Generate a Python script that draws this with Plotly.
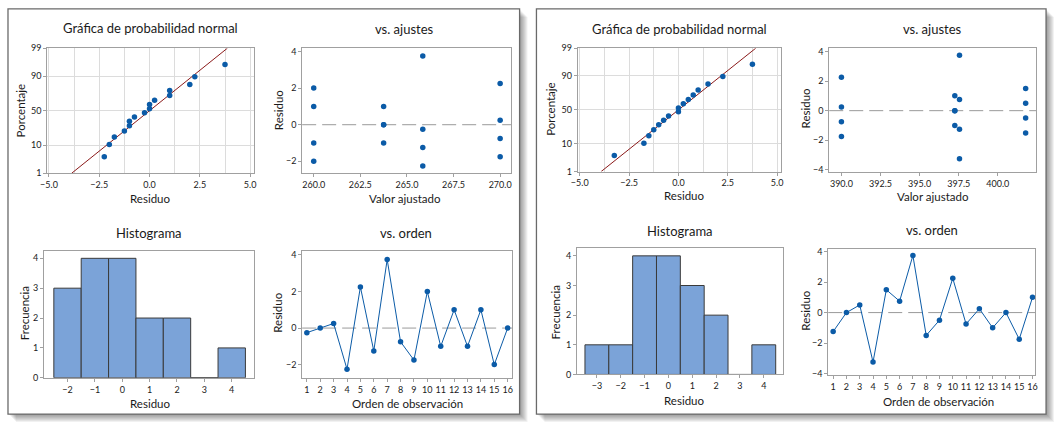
import plotly.graph_objects as go
from statistics import NormalDist

W, H = 1055, 423
FONT = "Lato"

# ---- datos modelo 1 (panel izquierdo) ----
orden = list(range(1, 17))
resid_a = [-0.25, 0.0, 0.25, -2.25, 2.25, -1.25, 3.75, -0.75, -1.75, 2.0, -1.0, 1.0, -1.0, 1.0, -2.0, 0.0]
ajuste_a = [265.85, 263.75, 270.0, 265.85, 270.0, 265.85, 265.85, 270.0, 270.0, 260.0, 260.0, 260.0,
            263.75, 263.75, 260.0, 263.75]
resid_ord_a = [-2.25, -2.0, -1.75, -1.25, -1.0, -1.0, -0.75, -0.25, 0.0, 0.0, 0.25, 1.0, 1.0, 2.0, 2.25, 3.75]
linea_a_x = [-3.87, 3.87]
hist_a_x = [-2, -1, 0, 1, 2, 3, 4]
hist_a_n = [3, 4, 4, 2, 2, 0, 1]

# ---- datos modelo 2 (panel derecho) ----
resid_b = [-1.25, 0.0, 0.5, -3.25, 1.5, 0.75, 3.75, -1.5, -0.5, 2.25, -0.75, 0.25, -1.0, 0.0, -1.75, 1.0]
ajuste_b = [397.55, 397.25, 401.78, 397.55, 401.78, 397.55, 397.55, 401.78, 401.78, 390.0, 390.0, 390.0,
            397.25, 397.25, 390.0, 397.25]
resid_ord_b = [-3.25, -1.75, -1.5, -1.25, -1.0, -0.75, -0.5, 0.0, 0.0, 0.25, 0.5, 0.75, 1.0, 1.5, 2.25, 3.75]
linea_b_x = [-3.92, 3.92]
hist_b_x = [-3, -2, -1, 0, 1, 2, 3, 4]
hist_b_n = [1, 1, 4, 4, 3, 2, 0, 1]

# posiciones de graficado (rango mediano) y escala de probabilidad
pct = [4.3, 10.4, 16.5, 22.6, 28.7, 34.8, 40.9, 47.0, 53.0, 59.1, 65.2, 71.3, 77.4, 83.5, 89.6, 95.7]
linea_p = [1, 99]
prob_ticks = [1, 10, 50, 90, 99]

z = lambda p: NormalDist().inv_cdf(p / 100.0)

BLUE = "#0b5ba7"
RED = "#8b1a1a"
BAR = "#7ba3d8"
FRAME = "#a0a0a0"
GRID = "#dcdcdc"
TXT = "#1a1a1a"


def px(x0, x1):
    return [x0 / W, x1 / W]


def py(y0, y1):
    # y en pixeles desde arriba
    return [1 - y1 / H, 1 - y0 / H]


def eje(dom, **kw):
    d = dict(domain=dom, showline=True, mirror=True, linecolor=FRAME, linewidth=1,
             ticks="outside", ticklen=3, tickcolor=FRAME,
             tickfont=dict(family=FONT, size=9, color=TXT),
             showgrid=False, zeroline=False)
    d.update(kw)
    return d


fig = go.Figure()

# ---------------- paneles ----------------
paneles = [
    dict(sfx=["", "2", "3", "4"], resid=resid_a, ajuste=ajuste_a, rs=resid_ord_a, lx=linea_a_x,
         hx=hist_a_x, hn=hist_a_n),
    dict(sfx=["5", "6", "7", "8"], resid=resid_b, ajuste=ajuste_b, rs=resid_ord_b, lx=linea_b_x,
         hx=hist_b_x, hn=hist_b_n),
]

for p in paneles:
    s = p["sfx"]
    # probabilidad normal
    fig.add_trace(go.Scatter(x=p["lx"], y=[z(v) for v in linea_p], mode="lines",
                             line=dict(color=RED, width=1), xaxis="x" + s[0], yaxis="y" + s[0]))
    fig.add_trace(go.Scatter(x=p["rs"], y=[z(v) for v in pct], mode="markers",
                             marker=dict(color=BLUE, size=5.5), xaxis="x" + s[0], yaxis="y" + s[0]))
    # vs. ajustes
    fig.add_trace(go.Scatter(x=p["ajuste"], y=p["resid"], mode="markers",
                             marker=dict(color=BLUE, size=5.5), xaxis="x" + s[1], yaxis="y" + s[1]))
    # histograma
    fig.add_trace(go.Bar(x=p["hx"], y=p["hn"], width=1, marker=dict(color=BAR, line=dict(color="#3a3a3a", width=1)),
                         xaxis="x" + s[2], yaxis="y" + s[2]))
    # vs. orden
    fig.add_trace(go.Scatter(x=orden, y=p["resid"], mode="lines+markers",
                             line=dict(color=BLUE, width=1), marker=dict(color=BLUE, size=5.5),
                             xaxis="x" + s[3], yaxis="y" + s[3]))

lay = {}
ptick = dict(tickvals=[z(v) for v in prob_ticks], ticktext=[str(v) for v in prob_ticks],
             showgrid=True, gridcolor=GRID, gridwidth=1)
pxax = dict(dtick=2.5, tick0=0, tickformat=".1f", showgrid=True, gridcolor=GRID,
            minor=dict(dtick=1.25, tick0=0, showgrid=True, gridcolor=GRID))

# panel izquierdo
lay["xaxis"] = eje(px(40.7, 249.3), range=[-5.08, 5.2], anchor="y", **pxax)
lay["yaxis"] = eje(py(43.3, 171.7), range=[z(1), z(99)], anchor="x", **ptick)
lay["xaxis2"] = eje(px(297.7, 508.3), range=[259.38, 270.58], dtick=2.5, tick0=260, tickformat=".1f", anchor="y2")
lay["yaxis2"] = eje(py(43.3, 171.7), range=[-2.65, 4.18], dtick=2, anchor="x2")
lay["xaxis3"] = eje(px(37.3, 249.3), range=[-2.86, 4.82], dtick=1, anchor="y3")
lay["yaxis3"] = eje(py(251.7, 381.7), range=[0, 4.24], dtick=1, anchor="x3")
lay["xaxis4"] = eje(px(297.7, 509.3), range=[0.65, 16.32], dtick=1, anchor="y4")
lay["yaxis4"] = eje(py(251.7, 381.7), range=[-2.72, 4.21], dtick=2, anchor="x4")
# panel derecho
lay["xaxis5"] = eje(px(575.7, 780.7), range=[-5.1, 5.2], anchor="y5", **pxax)
lay["yaxis5"] = eje(py(43.3, 170.0), range=[z(1), z(99)], anchor="x5", **ptick)
lay["xaxis6"] = eje(px(829.3, 1038.3), range=[389.22, 402.47], dtick=2.5, tick0=390, tickformat=".1f", anchor="y6")
lay["yaxis6"] = eje(py(42.7, 170.7), range=[-4.16, 4.26], dtick=2, anchor="x6")
lay["xaxis7"] = eje(px(575.0, 782.3), range=[-3.83, 4.79], dtick=1, anchor="y7")
lay["yaxis7"] = eje(py(248.3, 378.3), range=[0, 4.27], dtick=1, anchor="x7")
lay["xaxis8"] = eje(px(828.3, 1037.3), range=[0.63, 16.22], dtick=1, anchor="y8")
lay["yaxis8"] = eje(py(249.3, 379.3), range=[-4.13, 4.19], dtick=2, anchor="x8")

# ---------------- marcos, sombras, lineas de referencia ----------------
shapes = []


def rect(x0, y0, x1, y1, **kw):
    d = dict(type="rect", xref="paper", yref="paper", x0=x0 / W, x1=x1 / W, y0=1 - y1 / H, y1=1 - y0 / H,
             layer="below")
    d.update(kw)
    return d


for (x0, y0, x1, y1) in [(1, 3, 517, 419), (534, 3, 1048, 419)]:
    for k in range(1, 9):
        shapes.append(rect(x0 + k, y0 + k, x1 + k, y1 + k, fillcolor="rgba(0,0,0,0.055)", line=dict(width=0)))
    shapes.append(rect(x0, y0, x1, y1, fillcolor="white", line=dict(color="#6a6a6a", width=1.3)))

for ax in ["2", "4", "6", "8"]:
    shapes.append(dict(type="line", xref="x" + ax + " domain", yref="y" + ax, x0=0, x1=1, y0=0, y1=0,
                       line=dict(color="#9a9a9a", width=1, dash="14px,6px"), layer="below"))

# ---------------- textos ----------------
ann = []


def txt(t, x, y, size, angle=0):
    ann.append(dict(text=t, x=x / W, y=1 - y / H, xref="paper", yref="paper", showarrow=False,
                    font=dict(family=FONT, size=size, color=TXT), textangle=angle,
                    xanchor="center", yanchor="middle"))


titulos = [
    ("Gráfica de probabilidad normal", 144.3, 23), ("vs. ajustes", 400.5, 24),
    ("Histograma", 143.3, 233), ("vs. orden", 402.5, 233),
    ("Gráfica de probabilidad normal", 678, 24), ("vs. ajustes", 933.3, 24),
    ("Histograma", 678.7, 231), ("vs. orden", 932.5, 230),
]
for t, x, y in titulos:
    txt(t, x, y, 13)

ejes_x = [
    ("Residuo", 143.8, 198), ("Valor ajustado", 401.7, 198),
    ("Residuo", 143.8, 408), ("Orden de observación", 404, 408),
    ("Residuo", 682.5, 195), ("Valor ajustado", 934, 196),
    ("Residuo", 682.5, 405), ("Orden de observación", 940, 406),
]
for t, x, y in ejes_x:
    txt(t, x, y, 11.5)

ejes_y = [
    ("Porcentaje", 13.3, 107), ("Residuo", 273.3, 107),
    ("Frecuencia", 17.7, 316), ("Residuo", 273.3, 315),
    ("Porcentaje", 548.3, 106), ("Residuo", 805, 105),
    ("Frecuencia", 553.3, 315), ("Residuo", 805.7, 313),
]
for t, x, y in ejes_y:
    txt(t, x, y, 11.5, angle=-90)

fig.update_layout(width=W, height=H, autosize=False, margin=dict(l=0, r=0, t=0, b=0),
                  paper_bgcolor="white", plot_bgcolor="white", showlegend=False,
                  shapes=shapes, annotations=ann, **lay)

# quitar el margen por defecto del <body> y la barra de herramientas
fig.write_html("out.html", config={"displayModeBar": False},
               post_script="document.body.style.margin='0';document.body.style.overflow='hidden';")
